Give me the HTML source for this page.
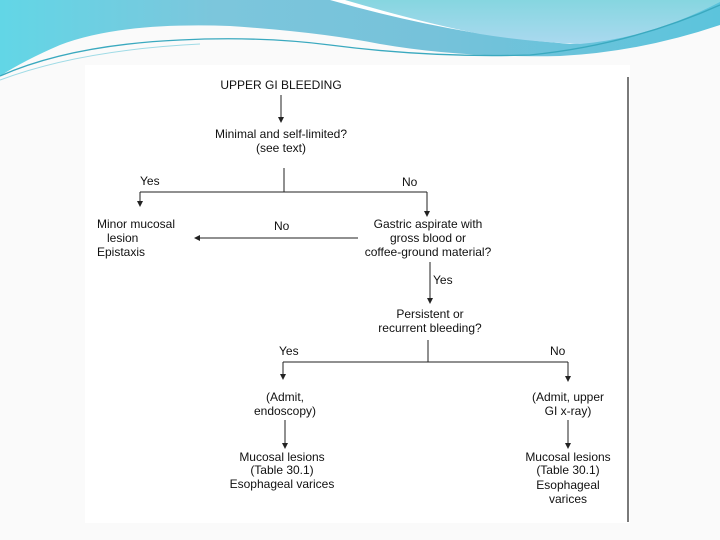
<!DOCTYPE html>
<html><head><style>
body{margin:0;width:720px;height:540px;background:#fafafa;overflow:hidden;position:relative;font-family:"Liberation Sans",Arial,sans-serif}
svg{position:absolute;left:0;top:0}
text{font-family:"Liberation Sans",Arial,sans-serif;font-size:12px;fill:#111}
</style></head><body>
<svg width="720" height="540" viewBox="0 0 720 540">
<defs>
<linearGradient id="g1" x1="0" y1="0" x2="1" y2="0">
<stop offset="0" stop-color="#62d6e6"/><stop offset="0.3" stop-color="#7cc6dc"/><stop offset="0.6" stop-color="#76c2da"/><stop offset="1" stop-color="#5cc4dc"/></linearGradient>
<linearGradient id="g2" x1="0" y1="0" x2="0" y2="1">
<stop offset="0" stop-color="#86d6e0"/><stop offset="1" stop-color="#aad9ef"/></linearGradient>
<marker id="a" markerWidth="6" markerHeight="6" refX="5" refY="3" orient="auto"><path d="M0,0 L6,3 L0,6z" fill="#222"/></marker>
</defs>
<rect x="85" y="65" width="545" height="458" fill="#fff"/>
<path d="M0,0 H720 V25 Q640,52 560,56 Q460,58 380,44 Q320,32 230,26 Q120,22 60,45 Q25,60 0,76 Z" fill="url(#g1)"/>
<path d="M330,0 Q400,20 470,32 Q520,40 570,44 Q640,40 720,0 Z" fill="#fff"/>
<path d="M345,0 Q420,22 480,34 Q530,42 580,44 Q650,38 720,2 V0 Z" fill="url(#g2)"/>
<path d="M0,76 Q70,45 180,40 Q260,36 330,45 Q430,58 530,55 Q630,45 720,5" fill="none" stroke="#3aa9bf" stroke-width="1.3"/>
<path d="M0,80 Q80,50 200,44" fill="none" stroke="#9fdbe6" stroke-width="1"/>
<line x1="628" y1="77" x2="628" y2="522" stroke="#222" stroke-width="1.2"/>
<g stroke="#222" stroke-width="1" fill="none">
<line x1="281" y1="95" x2="281" y2="122" marker-end="url(#a)"/>
<line x1="284" y1="168" x2="284" y2="192"/>
<line x1="140" y1="192" x2="427" y2="192"/>
<line x1="140" y1="192" x2="140" y2="206" marker-end="url(#a)"/>
<line x1="427" y1="192" x2="427" y2="216" marker-end="url(#a)"/>
<line x1="358" y1="238" x2="195" y2="238" marker-end="url(#a)"/>
<line x1="430" y1="262" x2="430" y2="303" marker-end="url(#a)"/>
<line x1="428" y1="340" x2="428" y2="362"/>
<line x1="283" y1="362" x2="568" y2="362"/>
<line x1="283" y1="362" x2="283" y2="379" marker-end="url(#a)"/>
<line x1="568" y1="362" x2="568" y2="381" marker-end="url(#a)"/>
<line x1="285" y1="420" x2="285" y2="448" marker-end="url(#a)"/>
<line x1="568" y1="420" x2="568" y2="448" marker-end="url(#a)"/>
</g>
<g text-anchor="middle">
<text x="281" y="89">UPPER GI BLEEDING</text>
<text x="281" y="138">Minimal and self-limited?</text>
<text x="281" y="152">(see text)</text>
<text x="428" y="228">Gastric aspirate with</text>
<text x="428" y="242">gross blood or</text>
<text x="428" y="256">coffee-ground material?</text>
<text x="430" y="318">Persistent or</text>
<text x="430" y="332">recurrent bleeding?</text>
<text x="285" y="401">(Admit,</text>
<text x="285" y="415">endoscopy)</text>
<text x="568" y="401">(Admit, upper</text>
<text x="568" y="415">GI x-ray)</text>
<text x="282" y="461">Mucosal lesions</text>
<text x="282" y="474">(Table 30.1)</text>
<text x="282" y="488">Esophageal varices</text>
<text x="568" y="461">Mucosal lesions</text>
<text x="568" y="474">(Table 30.1)</text>
<text x="568" y="489">Esophageal</text>
<text x="568" y="503">varices</text>
</g>
<text x="140" y="185">Yes</text>
<text x="402" y="186">No</text>
<text x="97" y="228">Minor mucosal</text>
<text x="107" y="242">lesion</text>
<text x="97" y="256">Epistaxis</text>
<text x="274" y="230">No</text>
<text x="433" y="284">Yes</text>
<text x="279" y="355">Yes</text>
<text x="550" y="355">No</text>
</svg>
</body></html>
